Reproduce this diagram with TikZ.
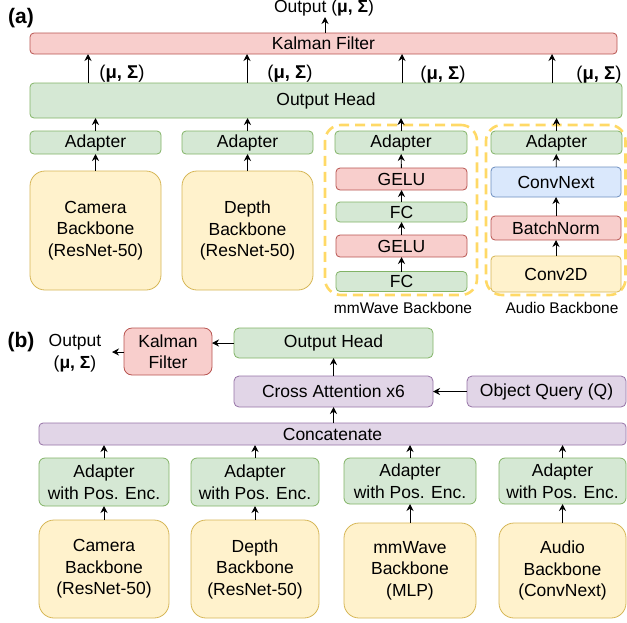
\documentclass[tikz,border=0pt]{standalone}
\usepackage{fontspec}
\setmainfont{Liberation Sans}
\usetikzlibrary{arrows.meta,calc}
\definecolor{gF}{HTML}{D5E8D4}\definecolor{gD}{HTML}{82B366}
\definecolor{rF}{HTML}{F8CECC}\definecolor{rD}{HTML}{B85450}
\definecolor{yF}{HTML}{FFF2CC}\definecolor{yD}{HTML}{D6B656}
\definecolor{bF}{HTML}{DAE8FC}\definecolor{bD}{HTML}{6C8EBF}
\definecolor{pF}{HTML}{E1D5E7}\definecolor{pD}{HTML}{9673A6}
\definecolor{dY}{HTML}{FFD966}
\newcommand\fsmain{\fontsize{17.5}{21.5}\selectfont}
\newcommand\ms{(\textbf{μ, Σ})}
\begin{document}
\begin{tikzpicture}[x=1pt,y=-1pt,
  box/.style={draw, rounded corners=4pt, inner sep=0pt, outer sep=0pt, align=center, font=\fsmain, line width=0.8pt},
  sz/.style 2 args={minimum width=#1, minimum height=#2},
  grn/.style={box, fill=gF, draw=gD},
  red/.style={box, fill=rF, draw=rD},
  ylw/.style={box, fill=yF, draw=yD},
  blu/.style={box, fill=bF, draw=bD},
  ppl/.style={box, fill=pF, draw=pD},
  bigbb/.style={ylw, rounded corners=15pt},
  grp/.style={draw=dY, line width=2.6pt, dash pattern=on 10pt off 6pt, rounded corners=16pt, inner sep=0pt, outer sep=0pt},
  arr/.style={-{Stealth[length=7pt,width=7pt]}, line width=0.9pt},
  txt/.style={inner sep=0pt, align=center, font=\fsmain},
  mus/.style={inner sep=0pt, align=center, font=\fontsize{18.5}{22}\selectfont},
  lbl/.style={inner sep=0pt, font=\fontsize{15.5}{18}\selectfont},
  plab/.style={inner sep=0pt, font=\fontsize{21}{24}\selectfont\bfseries}]
\useasboundingbox (0,0) rectangle (627,622);
% ---------- panel (a) ----------
\node[plab] (labA) at (21,18) {(a)};
\node[txt] (outA) at (324,8) {Output \ms};
\coordinate (outAtip) at (325,17);
\node[red, sz={587pt}{21pt}] (kfA) at (323.5,43.5) {Kalman Filter};
\node[grn, sz={592pt}{35pt}] (ohA) at (326,100.5) {Output Head};
\draw[arr] (kfA.north -| outAtip) -- (outAtip);

\coordinate (m1) at (88,0);\coordinate (m2) at (247,0);
\coordinate (m3) at (402,0);\coordinate (m4) at (552,0);
\foreach \m in {m1,m2,m3,m4}{\draw[arr] (ohA.north -| \m) -- (kfA.south -| \m);}
\node[mus] (muA1) at (122,74) {\ms};
\node[mus] (muA2) at (290,74) {\ms};
\node[mus] (muA3) at (443,75) {\ms};
\node[mus] (muA4) at (599,75) {\ms};

\node[grp, sz={152pt}{170pt}] (grpM) at (401,210) {};
\node[grp, sz={139.5pt}{170pt}] (grpU) at (555.75,210) {};

\node[grn, sz={131pt}{23pt}] (adA1) at (95.5,142.5) {Adapter};
\node[grn, sz={131pt}{23pt}] (adA2) at (247.5,142.5) {Adapter};
\node[grn, sz={132pt}{23pt}] (adA3) at (401,142.5) {Adapter};
\node[grn, sz={131pt}{23pt}] (adA4) at (556.5,142.5) {Adapter};

\node[bigbb, sz={131pt}{119pt}] (camA) at (95.5,230.5) {Camera\\Backbone\\(ResNet-50)};
\node[bigbb, sz={131pt}{119pt}] (depA) at (247.5,230.5) {Depth\\Backbone\\(ResNet-50)};

\node[red, sz={131pt}{22pt}] (gelu1) at (401.5,179) {GELU};
\node[grn, sz={131pt}{20pt}] (fc1) at (401.5,212) {FC};
\node[red, sz={131pt}{22pt}] (gelu2) at (401.5,246) {GELU};
\node[grn, sz={131pt}{20pt}] (fc2) at (401.5,281.5) {FC};

\node[blu, sz={130pt}{30pt}] (cnx) at (556,182) {ConvNext};
\node[red, sz={130pt}{24pt}] (bn) at (556,228) {BatchNorm};
\node[ylw, sz={130pt}{36pt}] (c2d) at (556,274) {Conv2D};

\node[lbl] (labM) at (403,308) {mmWave Backbone};
\node[lbl] (labU) at (562,308) {Audio Backbone};

\foreach \a in {adA1,adA2,adA3,adA4}{\draw[arr] (\a.north) -- (ohA.south -| \a.north);}
\draw[arr] (camA) -- (adA1);
\draw[arr] (depA) -- (adA2);
\draw[arr] (fc2) -- (gelu2);
\draw[arr] (gelu2) -- (fc1);
\draw[arr] (fc1) -- (gelu1);
\draw[arr] (gelu1) -- (adA3);
\draw[arr] (c2d) -- (bn);
\draw[arr] (bn) -- (cnx);
\draw[arr] (cnx) -- (adA4);

% ---------- panel (b) ----------
\node[plab] (labB) at (21,342) {(b)};
\node[txt] (outB) at (75,353) {Output\\\ms};
\coordinate (outBtip) at (112,352);
\node[red, rounded corners=8pt, sz={88pt}{47pt}] (kfB) at (168,351.5) {Kalman\\Filter};
\node[grn, rounded corners=5pt, sz={199pt}{30pt}] (ohB) at (333.5,343) {Output Head};
\node[ppl, rounded corners=5pt, sz={199pt}{31pt}] (caB) at (333.5,391.5) {Cross Attention x6};
\node[ppl, rounded corners=5pt, sz={159pt}{31pt}] (oqB) at (546.5,391.5) {Object Query (Q)};
\node[ppl, sz={587pt}{22pt}] (concB) at (332.5,434) {Concatenate};

\node[grn, rounded corners=6pt, sz={130pt}{48pt}] (adB1) at (104,482) {Adapter\\with Pos. Enc.};
\node[grn, rounded corners=6pt, sz={128pt}{48pt}] (adB2) at (255,482) {Adapter\\with Pos. Enc.};
\node[grn, rounded corners=6pt, sz={132pt}{46pt}] (adB3) at (410,481) {Adapter\\with Pos. Enc.};
\node[grn, rounded corners=6pt, sz={127pt}{46pt}] (adB4) at (562.5,481) {Adapter\\with Pos. Enc.};

\node[bigbb, sz={130pt}{98pt}] (bbB1) at (104,569) {Camera\\Backbone\\(ResNet-50)};
\node[bigbb, sz={128pt}{98pt}] (bbB2) at (255,569) {Depth\\Backbone\\(ResNet-50)};
\node[bigbb, sz={132pt}{95pt}] (bbB3) at (410,570.5) {mmWave\\Backbone\\(MLP)};
\node[bigbb, sz={127pt}{95pt}] (bbB4) at (562.5,570.5) {Audio\\Backbone\\(ConvNext)};

\draw[arr] (kfB.west |- outBtip) -- (outBtip);
\draw[arr] (ohB.west) -- (kfB.east |- ohB.west);
\draw[arr] (caB) -- (ohB);
\draw[arr] (oqB) -- (caB);
\draw[arr] (concB.north -| caB.south) -- (caB.south);
\draw[arr] (bbB1) -- (adB1);
\draw[arr] (bbB2) -- (adB2);
\draw[arr] (bbB3) -- (adB3);
\draw[arr] (bbB4) -- (adB4);
\foreach \a in {adB1,adB2,adB3,adB4}{\draw[arr] (\a.north) -- (concB.south -| \a.north);}
\end{tikzpicture}
\end{document}
